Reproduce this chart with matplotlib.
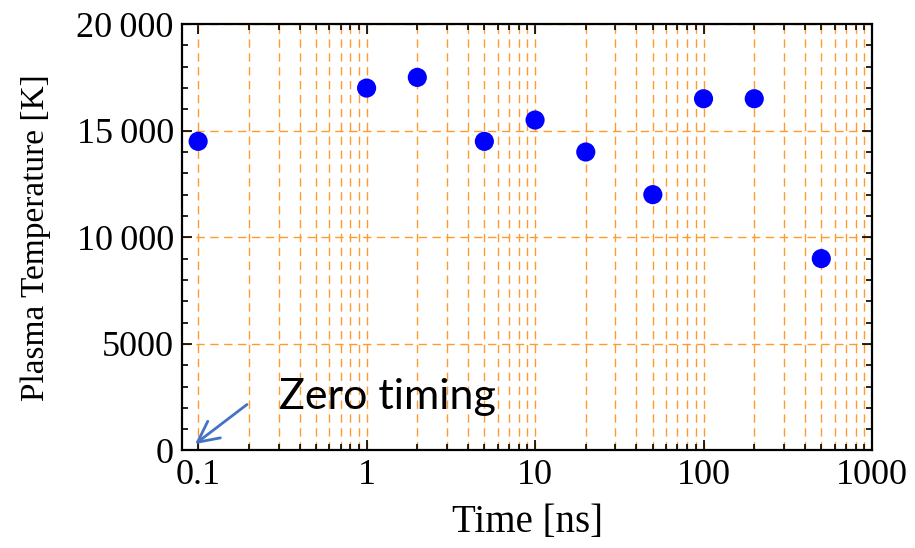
import matplotlib
matplotlib.use('Agg')
import matplotlib.pyplot as plt
from matplotlib.ticker import FixedLocator, FuncFormatter, NullFormatter
import numpy as np

# data
time_ns = [0.1, 1, 2, 5, 10, 20, 50, 100, 200, 500]
temperature_K = [14500, 17000, 17500, 14500, 15500, 14000, 12000, 16500, 16500, 9000]
y_ticks = [0, 5000, 10000, 15000, 20000]
x_ticks = [0.1, 1, 10, 100, 1000]
x_tick_labels = ['0.1', '1', '10', '100', '1000']

serif = 'Liberation Serif'
grid_color = '#ff9a2e'


def fmt_y(v, pos):
    """Mathematica style numbers: thin space grouping above 9999."""
    v = int(round(v))
    if v >= 10000:
        return f'{v // 1000}\u2009{v % 1000:03d}'
    return str(v)


# minor decades 0.2..0.9, 2..9, ... 200..900
x_minor = [m * d for d in x_ticks[:-1] for m in range(2, 10)]

fig = plt.figure(figsize=(9.15, 5.48), dpi=100)
ax = fig.add_axes([0.199, 0.178, 0.754, 0.778])

ax.scatter(time_ns, temperature_K, s=190, color='#0000ff', edgecolors='none', zorder=5, clip_on=False)

ax.set_xscale('log')
ax.set_xlim(0.0803, 1000)
ax.set_ylim(0, 20000)

ax.xaxis.set_major_locator(FixedLocator(x_ticks))
ax.xaxis.set_major_formatter(FuncFormatter(lambda v, p: x_tick_labels[p] if p is not None and p < len(x_tick_labels) else ''))
ax.xaxis.set_minor_locator(FixedLocator(x_minor))
ax.xaxis.set_minor_formatter(NullFormatter())
ax.yaxis.set_major_locator(FixedLocator(y_ticks))
ax.yaxis.set_major_formatter(FuncFormatter(fmt_y))
ax.yaxis.set_minor_locator(FixedLocator(np.arange(0, 20001, 1000)))

ax.tick_params(which='both', direction='in', top=True, right=True, color='black', width=1.2)
ax.tick_params(which='major', length=7, labelsize=26, pad=6)
ax.tick_params(which='minor', length=4)
for lab in ax.get_xticklabels() + ax.get_yticklabels():
    lab.set_fontfamily(serif)

# dashed orange grid lines
ax.grid(True, which='both', axis='x', color=grid_color, linestyle=(0, (6, 4)), linewidth=1.0)
ax.grid(True, which='major', axis='y', color=grid_color, linestyle=(0, (6, 4)), linewidth=1.0)
ax.set_axisbelow(True)

for sp in ax.spines.values():
    sp.set_linewidth(1.6)
    sp.set_zorder(6)

ax.set_xlabel('Time [ns]', fontsize=28, family=serif)
ax.set_ylabel('Plasma Temperature [K]', fontsize=24, family=serif)
ax.xaxis.set_label_coords(0.5, -0.125)
ax.yaxis.set_label_coords(-0.19, 0.5)

# annotation for the zero timing point
ax.annotate('', xy=(0.093, 220), xytext=(0.201, 2235),
            arrowprops=dict(arrowstyle='->, head_length=0.5, head_width=0.25',
                            color='#4472c4', lw=2, mutation_scale=30))
ax.text(0.3, 2500, 'Zero timing', fontsize=31, family='Lato', va='center', ha='left')

fig.savefig('out.png', dpi=100)
